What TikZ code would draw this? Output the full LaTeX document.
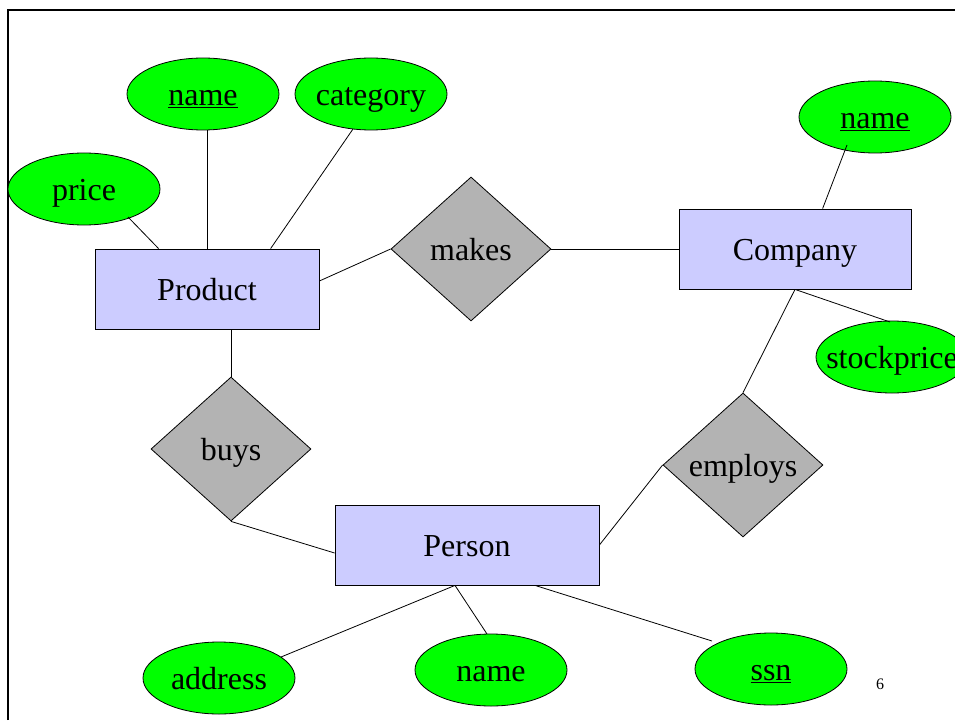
\documentclass[tikz,border=0pt]{standalone}
\usepackage{fontspec}
\setmainfont{Liberation Serif}
\usetikzlibrary{shapes.geometric,calc}
\definecolor{attrgreen}{HTML}{00FF00}
\definecolor{entblue}{HTML}{CCCCFF}
\definecolor{relgray}{HTML}{B3B3B3}
\begin{document}
\begin{tikzpicture}[x=0.75pt,y=-0.75pt,
  txt/.style={font=\fontsize{24}{28}\selectfont,text height=21pt,text depth=4pt},
  attrnode/.style={ellipse,draw,fill=attrgreen,minimum width=114pt,minimum height=54pt,inner sep=0pt,line width=0.6pt,txt},
  entnode/.style={rectangle,draw,fill=entblue,minimum height=60pt,inner sep=0pt,line width=0.6pt,txt},
  relnode/.style={diamond,draw,fill=relgray,minimum width=120pt,minimum height=108pt,inner sep=0pt,line width=0.6pt,txt},
  link/.style={line width=0.6pt}]
\useasboundingbox (0,0) rectangle (955,720);
\draw[line width=2.2pt] (8,720) -- (8,10) -- (960,10);

\node[attrnode] (pname) at (203,94) {\makebox[0pt]{\underline{name}}};
\node[attrnode] (pcat) at (371,94) {\makebox[0pt]{category}};
\node[attrnode] (pprice) at (84,189) {\makebox[0pt]{price}};
\node[attrnode] (cname) at (875,117) {\makebox[0pt]{\underline{name}}};
\node[attrnode] (cstock) at (892,357) {\makebox[0pt]{stockprice}};
\node[attrnode] (addr) at (219,678) {\makebox[0pt]{address}};
\node[attrnode] (hname) at (491,670) {\makebox[0pt]{name}};
\node[attrnode] (ssn) at (771,669) {\makebox[0pt]{\underline{ssn}}};

\node[entnode,minimum width=168pt] (product) at (207,289) {Product};
\node[entnode,minimum width=174pt] (company) at (795,249) {Company};
\node[entnode,minimum width=198pt] (person) at (467,545) {Person};

\node[relnode] (makes) at (471,249) {\makebox[0pt]{makes}};
\node[relnode] (buys) at (231,449) {\makebox[0pt]{buys}};
\node[relnode] (employs) at (743,465) {\makebox[0pt]{employs}};

\node[font=\fontsize{12}{14}\selectfont] (pg) at (880,684) {6};

\draw[link] ($(pprice)+(44,28)$) -- ($(product.north west)+(64,0)$);
\draw[link] (product.north) -- (product.north |- pname.south);
\draw[link] ($(pcat)+(-18,35)$) -- ($(product.north west)+(176,0)$);
\draw[link] ($(product.east)+(0,-8)$) -- (makes.west);
\draw[link] (makes.east) -- (company.west);
\draw[link] ($(cname)+(-28,28)$) -- ($(company.north west)+(144,0)$);
\draw[link] (company.south) -- ($(cstock)+(-2,-35)$);
\draw[link] (company.south) -- (employs.north);
\draw[link] (buys.north |- product.south) -- (buys.north);
\draw[link] (buys.south) -- ($(person.west)+(0,8)$);
\draw[link] (person.east) -- (employs.west);
\draw[link] ($(person.south)+(-12,0)$) -- ($(addr)+(62,-21)$);
\draw[link] ($(person.south)+(-12,0)$) -- ($(hname)+(-4,-36)$);
\draw[link] ($(person.south)+(68,0)$) -- ($(ssn)+(-59,-28)$);
\end{tikzpicture}
\end{document}
